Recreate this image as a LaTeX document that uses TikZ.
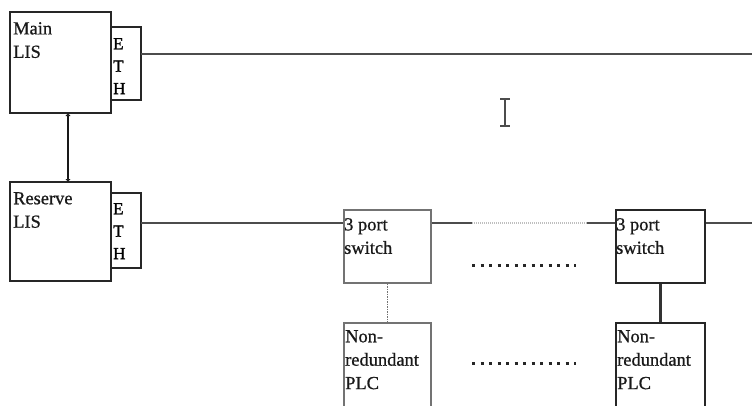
\documentclass[tikz,border=0pt]{standalone}
\usepackage{fontspec}
\setmainfont{Liberation Serif}
\newfontfamily\labelfont[FakeBold=0.8]{Liberation Serif}
\newfontfamily\ethfont[FakeBold=1.6]{Liberation Serif}
\usetikzlibrary{arrows.meta}
\begin{document}
\begin{tikzpicture}[x=1bp,y=-1bp,
  txt/.style={font=\labelfont\fontsize{18.5}{23.5}\selectfont, text=black!90, align=left, inner sep=0pt, anchor=north west},
  ethtxt/.style={font=\ethfont\fontsize{17}{22.5}\selectfont, text=black, align=left, inner sep=0pt, anchor=north west},
  darkbox/.style={draw=black!85, line width=2bp},
  lightbox/.style={draw=black!55, line width=1.5bp},
  wire/.style={draw=black!70, line width=2.7bp},
  faint/.style={draw=black!25, line width=2bp, dash pattern=on 1bp off 1bp},
  ellipsis/.style={draw=black!85, line width=3bp, dash pattern=on 3bp off 5.5bp}]
\useasboundingbox (0,0) rectangle (752,405);
\begin{scope}
\clip (0,0) rectangle (752,405);

% main LIS with its ETH port
\draw[darkbox] (10,12) rectangle (111,113);
\coordinate (mainS) at (68,113);
\draw[darkbox] (111,27) rectangle (141,100);
\coordinate (mainEth) at (141,54);
\node[txt] at (13,22) {Main\\LIS};
\node[ethtxt] at (113,38) {E\\T\\H};

% reserve LIS with its ETH port
\draw[darkbox] (10,182) rectangle (111,281);
\coordinate (resN) at (68,182);
\draw[darkbox] (111,193) rectangle (141,268);
\coordinate (resEth) at (141,223);
\node[txt] at (13,192) {Reserve\\LIS};
\node[ethtxt] at (113,203) {E\\T\\H};

% link between main and reserve
\draw[black!90, line width=2.4bp, {Latex[length=3bp,width=5.5bp]}-{Latex[length=3bp,width=5.5bp]}] (mainS) -- (resN);

% upper network line
\coordinate (topEnd) at (752,54);
\draw[wire] (mainEth) -- (topEnd);

% switches
\node[lightbox, minimum width=87bp, minimum height=73bp, inner sep=0pt, anchor=north west] (sw1) at (343,209) {};
\node[txt] at (344,218) {3 port\\switch};
\node[darkbox, minimum width=89bp, minimum height=73bp, inner sep=0pt, anchor=north west] (sw2) at (615,209) {};
\node[txt] at (616,218) {3 port\\switch};

% PLCs
\node[lightbox, minimum width=87bp, minimum height=100bp, inner sep=0pt, anchor=north west] (plc1) at (343,322) {};
\node[txt] at (345,330) {Non-\\redundant\\PLC};
\node[darkbox, minimum width=89bp, minimum height=100bp, inner sep=0pt, anchor=north west] (plc2) at (615,322) {};
\node[txt] at (617,330) {Non-\\redundant\\PLC};

% lower network line
\coordinate (gapA) at (472,223);
\coordinate (gapB) at (587,223);
\coordinate (lowEnd) at (752,223);
\draw[wire] (resEth) -- (sw1.west |- resEth);
\draw[wire] (sw1.east |- resEth) -- (gapA);
\draw[faint] (gapA) -- (gapB);
\draw[wire] (gapB) -- (sw2.west |- resEth);
\draw[wire] (sw2.east |- resEth) -- (lowEnd);

% switch to PLC drops
\draw[black!55, line width=1.5bp, dash pattern=on 1.5bp off 1bp] (sw1.south) -- (plc1.north);
\draw[black!80, line width=2.4bp] (sw2.south) -- (plc2.north);

% ellipsis rows
\coordinate (d1a) at (472,265);
\coordinate (d1b) at (576,265);
\coordinate (d2a) at (472,363);
\coordinate (d2b) at (576,363);
\draw[ellipsis] (d1a) -- (d1b);
\draw[ellipsis] (d2a) -- (d2b);

% text cursor
\draw[black!70, line width=1.8bp] (505,99) -- (505,126) (500,99) -- (510,99) (500,126) -- (510,126);
\end{scope}
\end{tikzpicture}
\end{document}
